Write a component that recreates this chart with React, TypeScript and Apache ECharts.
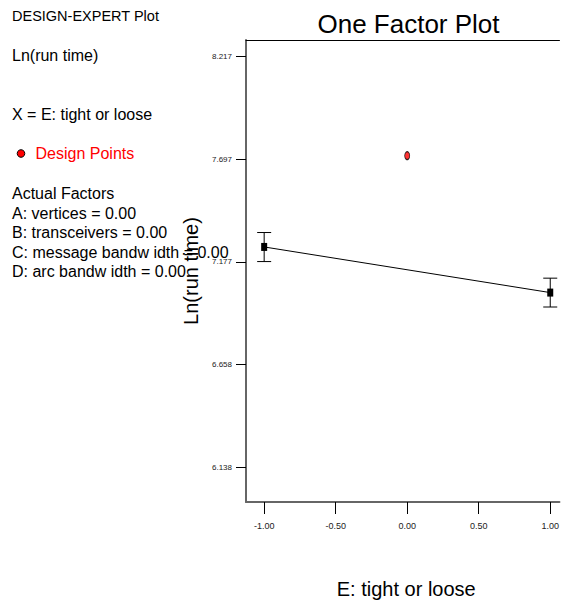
import React, { useEffect, useRef } from "react";
import * as echarts from "echarts";

// Tick values
const xTicks = [-1, -0.5, 0, 0.5, 1];
const yTicks = [6.138, 6.658, 7.177, 7.697, 8.217];

// Model prediction at factor levels
const factorLevels = [-1, 1];
const predicted = [7.252, 7.021];
const lsdLow = [7.178, 6.948];
const lsdHigh = [7.325, 7.094];

// Design points
const designX = [0];
const designY = [7.714];

// Side panel texts
const sideLines = [
  "Actual Factors",
  "A: vertices = 0.00",
  "B: transceivers = 0.00",
  "C: message bandw idth = 0.00",
  "D: arc bandw idth = 0.00",
];

const FONT = "'Liberation Sans', Arial, sans-serif";

export default function App() {
  const ref = useRef<HTMLDivElement>(null);

  useEffect(() => {
    if (!ref.current) return;
    const chart = echarts.init(ref.current, undefined, { renderer: "svg" });

    const sideY = [193, 213, 232.5, 252, 271.5];

    const graphic: any[] = [
      {
        type: "text",
        x: 408.5,
        y: 23.5,
        style: { text: "One Factor Plot", fontSize: 26, fontFamily: FONT, fill: "#000", textAlign: "center", verticalAlign: "middle" },
      },
      { type: "text", x: 12, y: 16, style: { text: "DESIGN-EXPERT Plot", fontSize: 14.5, fontFamily: FONT, fill: "#000", verticalAlign: "middle" } },
      { type: "text", x: 12, y: 55.5, style: { text: "Ln(run time)", fontSize: 16, fontFamily: FONT, fill: "#000", verticalAlign: "middle" } },
      { type: "text", x: 12, y: 114.5, style: { text: "X = E: tight or loose", fontSize: 16, fontFamily: FONT, fill: "#000", verticalAlign: "middle" } },
      { type: "circle", shape: { cx: 21, cy: 153.5, r: 3.8 }, style: { fill: "#ff0000", stroke: "#000", lineWidth: 1 } },
      { type: "text", x: 35.5, y: 153.5, style: { text: "Design Points", fontSize: 16, fontFamily: FONT, fill: "#ff0000", verticalAlign: "middle" } },
      ...sideLines.map((t, i) => ({
        type: "text",
        x: 12,
        y: sideY[i],
        style: { text: t, fontSize: 16, fontFamily: FONT, fill: "#000", verticalAlign: "middle" },
      })),
    ];

    chart.setOption({
      animation: false,
      backgroundColor: "#fff",
      graphic,
      grid: { left: 246, top: 40, right: 0, bottom: 101.5, containLabel: false },
      xAxis: [
        {
          type: "value",
          min: -1.127,
          max: 1.0645,
          position: "bottom",
          name: "E: tight or loose",
          nameLocation: "middle",
          nameGap: 77,
          nameTextStyle: { fontSize: 20, fontFamily: FONT, color: "#000", padding: [0, 0, 0, 7] },
          axisLine: { show: true, onZero: false, lineStyle: { color: "#666", width: 2 } },
          axisTick: { show: true, length: 12, customValues: xTicks, lineStyle: { color: "#000", width: 1 } },
          axisLabel: {
            show: true,
            customValues: xTicks,
            margin: 19,
            fontSize: 9,
            fontFamily: FONT,
            color: "#222",
            formatter: (v: number) => v.toFixed(2),
          },
          splitLine: { show: false },
        },
        {
          type: "value",
          min: -1.127,
          max: 1.0645,
          position: "top",
          axisLine: { show: true, onZero: false, lineStyle: { color: "#000", width: 1 } },
          axisTick: { show: false },
          axisLabel: { show: false },
          splitLine: { show: false },
        },
      ],
      yAxis: {
        type: "value",
        min: 5.9612,
        max: 8.2993,
        name: "Ln(run time)",
        nameLocation: "middle",
        nameGap: 43,
        nameTextStyle: { fontSize: 20, fontFamily: FONT, color: "#000" },
        axisLine: { show: true, onZero: false, lineStyle: { color: "#666", width: 2 } },
        axisTick: { show: true, length: 10, customValues: yTicks, lineStyle: { color: "#000", width: 1 } },
        axisLabel: {
          show: true,
          customValues: yTicks,
          margin: 14,
          fontSize: 8,
          fontFamily: FONT,
          color: "#222",
          formatter: (v: number) => v.toFixed(3),
        },
        splitLine: { show: false },
      },
      series: [
        {
          type: "custom",
          name: "LSD bars",
          xAxisIndex: 0,
          data: factorLevels.map((x, i) => [x, lsdLow[i], lsdHigh[i]]),
          encode: { x: 0, y: [1, 2] },
          renderItem: (params: any, api: any) => {
            const x = api.value(0);
            const pLo = api.coord([x, api.value(1)]);
            const pHi = api.coord([x, api.value(2)]);
            const hw = 7;
            const st = { stroke: "#000", lineWidth: 1 };
            return {
              type: "group",
              children: [
                { type: "line", shape: { x1: pLo[0], y1: pLo[1], x2: pHi[0], y2: pHi[1] }, style: st },
                { type: "line", shape: { x1: pLo[0] - hw, y1: pLo[1], x2: pLo[0] + hw, y2: pLo[1] }, style: st },
                { type: "line", shape: { x1: pHi[0] - hw, y1: pHi[1], x2: pHi[0] + hw, y2: pHi[1] }, style: st },
              ],
            };
          },
          z: 2,
        },
        {
          type: "line",
          name: "Prediction",
          xAxisIndex: 0,
          data: factorLevels.map((x, i) => [x, predicted[i]]),
          symbol: "rect",
          symbolSize: [6, 8],
          itemStyle: { color: "#000" },
          lineStyle: { color: "#000", width: 1 },
          z: 3,
        },
        {
          type: "scatter",
          name: "Design Points",
          xAxisIndex: 0,
          data: designX.map((x, i) => [x, designY[i]]),
          symbol: "circle",
          symbolSize: [5, 8],
          itemStyle: { color: "#ff0000", borderColor: "#000", borderWidth: 1 },
          z: 4,
        },
      ],
    });

    return () => chart.dispose();
  }, []);

  return <div ref={ref} style={{ position: "absolute", left: 0, top: 0, width: 562, height: 604 }} />;
}
